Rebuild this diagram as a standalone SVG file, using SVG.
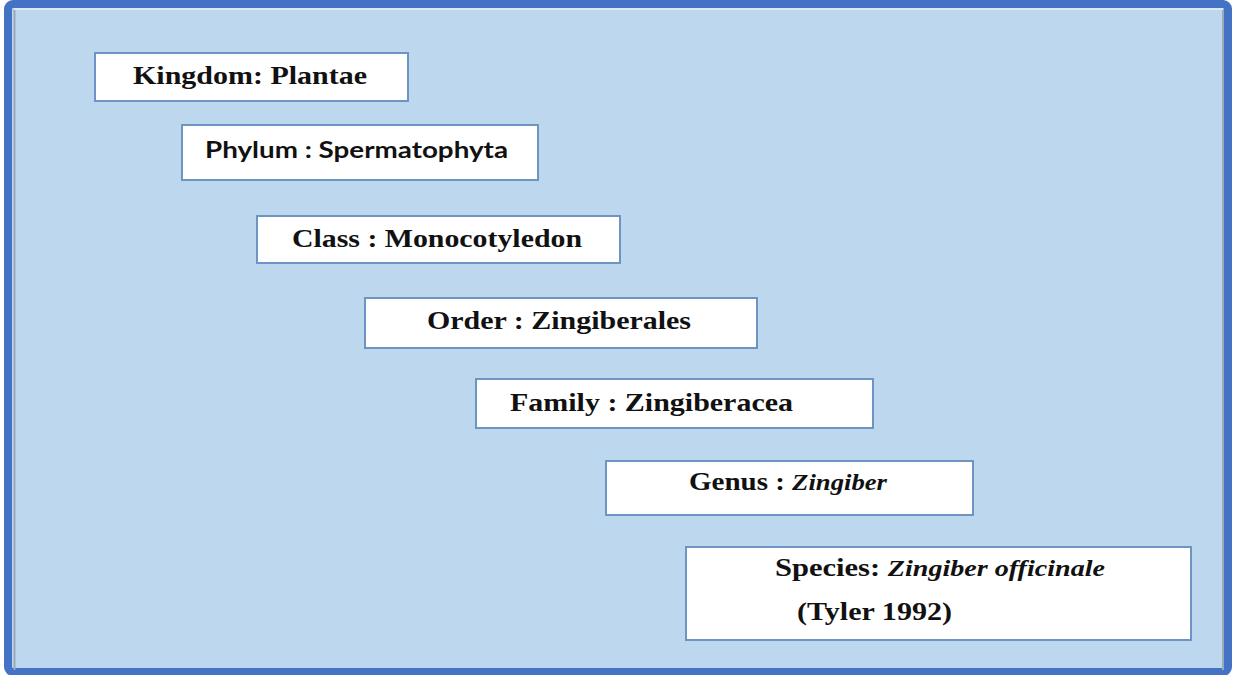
<svg xmlns="http://www.w3.org/2000/svg" width="1247" height="675" viewBox="0 0 1247 675">
  <style>
    .box { fill: #FFFFFF; stroke: #6E94C4; stroke-width: 2; }
    .serif { font-family: "Liberation Serif", "Times New Roman", serif; font-weight: bold; font-size: 25px; fill: #111111; }
    .sans { font-family: Lato, "Liberation Sans", sans-serif; font-weight: bold; font-size: 22px; fill: #111111; }
    .it { font-style: italic; }
  </style>
  <rect x="0" y="0" width="1247" height="675" fill="#FFFFFF"/>
  <g id="frame">
    <rect x="8" y="4" width="1220" height="668" rx="5" ry="5" fill="#BDD7EE" stroke="#4472C4" stroke-width="8"/>
    <line x1="14.5" y1="9" x2="14.5" y2="670" stroke="#9AAAB8" stroke-width="2"/>
    <line x1="1223" y1="9" x2="1223" y2="670" stroke="#9AAAB8" stroke-width="2"/>
    <line x1="14" y1="9" x2="1223" y2="9" stroke="#DCE8F4" stroke-width="2"/>
  </g>
  <g id="connectors"></g>
  <g id="kingdom">
    <rect class="box" x="95" y="53" width="313" height="48"/>
    <text class="serif" x="133" y="84" textLength="234" lengthAdjust="spacingAndGlyphs">Kingdom: Plantae</text>
  </g>
  <g id="phylum">
    <rect class="box" x="182" y="125" width="356" height="55"/>
    <text class="sans" x="205" y="158" textLength="303" lengthAdjust="spacingAndGlyphs">Phylum : Spermatophyta</text>
  </g>
  <g id="class">
    <rect class="box" x="257" y="216" width="363" height="47"/>
    <text class="serif" x="292" y="247" textLength="290" lengthAdjust="spacingAndGlyphs">Class : Monocotyledon</text>
  </g>
  <g id="order">
    <rect class="box" x="365" y="298" width="392" height="50"/>
    <text class="serif" x="427" y="329" textLength="264" lengthAdjust="spacingAndGlyphs">Order : Zingiberales</text>
  </g>
  <g id="family">
    <rect class="box" x="476" y="379" width="397" height="49"/>
    <text class="serif" x="510" y="411" textLength="283" lengthAdjust="spacingAndGlyphs">Family : Zingiberacea</text>
  </g>
  <g id="genus">
    <rect class="box" x="606" y="461" width="367" height="54"/>
    <text class="serif" x="689" y="490" textLength="198" lengthAdjust="spacingAndGlyphs">Genus : <tspan class="it" font-size="23">Zingiber</tspan></text>
  </g>
  <g id="species">
    <rect class="box" x="686" y="547" width="505" height="93"/>
    <text class="serif" x="775" y="576" textLength="330" lengthAdjust="spacingAndGlyphs">Species: <tspan class="it" font-size="23">Zingiber officinale</tspan></text>
    <text class="serif" x="797" y="620" textLength="155" lengthAdjust="spacingAndGlyphs">(Tyler 1992)</text>
  </g>
</svg>
